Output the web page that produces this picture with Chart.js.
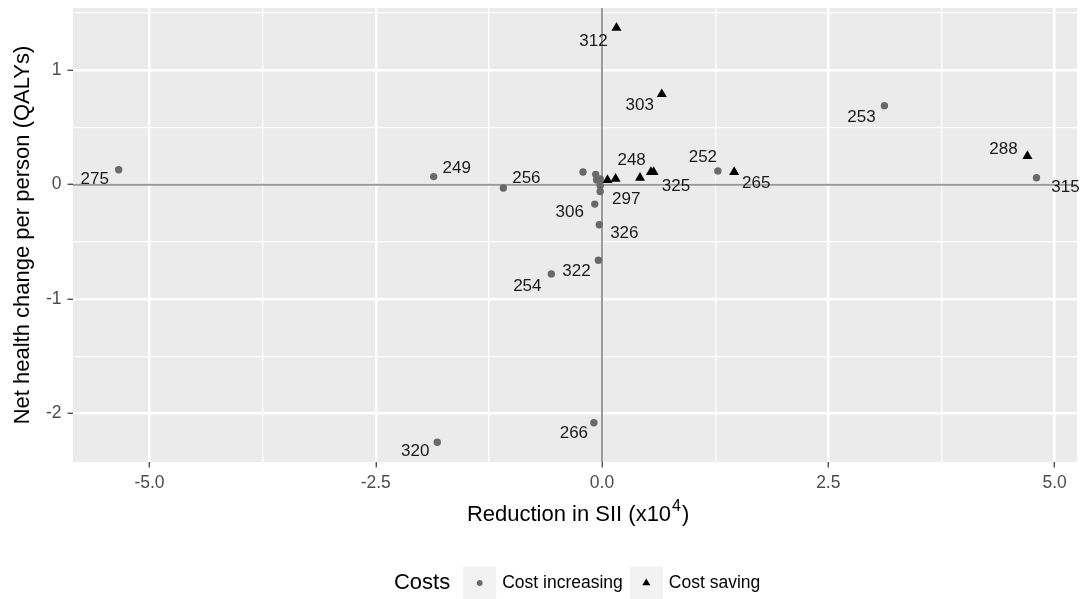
<!DOCTYPE html>
<html>
<head>
<meta charset="utf-8">
<script src="https://cdn.jsdelivr.net/npm/chart.js@4/dist/chart.umd.min.js"></script>
<style>
  html, body { margin: 0; padding: 0; background: #ffffff; }
  #wrap { width: 1083px; height: 599px; position: relative; }
</style>
</head>
<body>
<div id="wrap"><canvas id="chart" width="1083" height="599"></canvas></div>
<script>
// Axis tick values
const xTicks = [-5, -2.5, 0, 2.5, 5];
const yTicks = [-2, -1, 0, 1];

// Cost-increasing schemes: id, reduction in SII (x10^4), net QALY change
const increasingIds = ['275', '249', '256', '320', '266', '254', '322', '326', '306', '297', '', '', '', '', '', '252', '253', '315'];
const increasingX   = [-5.34, -1.86, -1.09, -1.82, -0.09, -0.56, -0.04, -0.03, -0.08, -0.02, -0.21, -0.07, -0.06, -0.02, -0.02, 1.28, 3.12, 4.80];
const increasingY   = [0.13, 0.07, -0.03, -2.25, -2.08, -0.78, -0.66, -0.35, -0.17, -0.06, 0.11, 0.09, 0.04, 0.05, -0.01, 0.12, 0.69, 0.06];

// Cost-saving schemes
const savingIds = ['312', '303', '288', '265', '325', '', '', '248', ''];
const savingX   = [0.16, 0.66, 4.70, 1.46, 0.54, 0.57, 0.42, 0.15, 0.06];
const savingY   = [1.37, 0.79, 0.25, 0.11, 0.11, 0.11, 0.06, 0.05, 0.04];

const seriesNames = ['Cost increasing', 'Cost saving'];
const legendTitle = 'Costs';
// x-axis title: base text, superscript exponent, closing text
const xTitleParts = ['Reduction in SII (x10', '4', ')'];
const yTitle = 'Net health change per person (QALYs)';

// Where each scheme label sits relative to its marker (pixels)
const labelNudge = {
  '275': [-24, 10], '249': [23, -8], '256': [23, -10], '320': [-22, 9],
  '266': [-20, 11], '254': [-24, 12], '322': [-22, 11], '326': [25, 9],
  '306': [-25, 8], '297': [26, 8], '252': [-15, -14], '253': [-23, 12],
  '315': [29, 10], '312': [-23, 14], '303': [-22, 11], '288': [-24, -7],
  '265': [22, 11], '325': [25, 14], '248': [16, -19]
};

const FONT = '"Liberation Sans", Arial, Helvetica, sans-serif';

function toPoints(xs, ys) {
  return xs.map((x, i) => ({ x: x, y: ys[i] }));
}

// Major ticks from the arrays plus minor ticks half way between them,
// keeping only those inside the axis range
function withMinor(values, lo, hi) {
  const step = values[1] - values[0];
  const out = [];
  for (let k = -1; k <= (values.length - 1) * 2 + 1; k++) {
    const v = values[0] + k * step / 2;
    if (v < lo || v > hi) continue;
    out.push({ value: v, minor: k % 2 !== 0 });
  }
  return out;
}

function noEdgePadding(scale) {
  scale.paddingTop = 0;
  scale.paddingBottom = 0;
  scale.paddingLeft = 0;
  scale.paddingRight = 0;
}

const panelBg = {
  id: 'panelBg',
  beforeDraw(chart) {
    const { ctx, chartArea: a } = chart;
    ctx.save();
    ctx.fillStyle = '#EBEBEB';
    ctx.fillRect(a.left, a.top, a.right - a.left, a.bottom - a.top);
    ctx.restore();
  }
};

// Reference lines through the origin
const zeroLines = {
  id: 'zeroLines',
  beforeDatasetsDraw(chart) {
    const { ctx, chartArea: a, scales } = chart;
    const x0 = scales.x.getPixelForValue(0);
    const y0 = scales.y.getPixelForValue(0);
    ctx.save();
    ctx.strokeStyle = '#999999';
    ctx.lineWidth = 2;
    ctx.beginPath();
    ctx.moveTo(a.left, y0); ctx.lineTo(a.right, y0);
    ctx.moveTo(x0, a.top); ctx.lineTo(x0, a.bottom);
    ctx.stroke();
    ctx.restore();
  }
};

// Scheme id next to each marker
const schemeLabels = {
  id: 'schemeLabels',
  afterDatasetsDraw(chart) {
    const ctx = chart.ctx;
    ctx.save();
    ctx.font = '17px ' + FONT;
    ctx.fillStyle = '#1a1a1a';
    ctx.textAlign = 'center';
    ctx.textBaseline = 'middle';
    chart.data.datasets.forEach((ds, di) => {
      const meta = chart.getDatasetMeta(di);
      meta.data.forEach((pt, i) => {
        const id = ds.ids[i];
        if (!id) return;
        const n = labelNudge[id] || [0, 0];
        ctx.fillText(id, pt.x + n[0], pt.y + n[1]);
      });
    });
    ctx.restore();
  }
};

// x-axis title with a raised exponent
const xAxisTitle = {
  id: 'xAxisTitle',
  afterDraw(chart) {
    const ctx = chart.ctx;
    const a = chart.chartArea;
    const cy = 515;
    const base = '22px ' + FONT, sup = '16px ' + FONT;
    ctx.save();
    ctx.textBaseline = 'middle';
    ctx.textAlign = 'left';
    ctx.fillStyle = '#000000';
    ctx.font = base;
    const w0 = ctx.measureText(xTitleParts[0]).width;
    const w2 = ctx.measureText(xTitleParts[2]).width;
    ctx.font = sup;
    const w1 = ctx.measureText(xTitleParts[1]).width;
    let x = (a.left + a.right) / 2 + 3 - (w0 + w1 + 2 + w2) / 2;
    ctx.font = base;
    ctx.fillText(xTitleParts[0], x, cy);
    x += w0 + 1;
    ctx.font = sup;
    ctx.fillText(xTitleParts[1], x, cy - 8);
    x += w1 + 1;
    ctx.font = base;
    ctx.fillText(xTitleParts[2], x, cy);
    ctx.restore();
  }
};

// Legend along the bottom: title, then a grey key box and label per series
const costLegend = {
  id: 'costLegend',
  afterDraw(chart) {
    const ctx = chart.ctx;
    const cy = 583;
    const boxW = 33, boxH = 33, titleGap = 13, textGap = 6, itemGap = 7;
    ctx.save();
    ctx.textBaseline = 'middle';
    ctx.textAlign = 'left';
    ctx.font = '22px ' + FONT;
    const titleW = ctx.measureText(legendTitle).width;
    ctx.font = '17.5px ' + FONT;
    const items = chart.data.datasets.map(ds => ({ ds: ds, w: ctx.measureText(ds.label).width }));
    let total = titleW + titleGap;
    items.forEach((it, i) => { total += boxW + textGap + it.w + (i ? itemGap : 0); });
    const a = chart.chartArea;
    let x = (a.left + a.right) / 2 + 2 - total / 2;

    ctx.fillStyle = '#000000';
    ctx.font = '22px ' + FONT;
    ctx.fillText(legendTitle, x, cy);
    x += titleW + titleGap;

    items.forEach((it, i) => {
      if (i) x += itemGap;
      ctx.fillStyle = '#F2F2F2';
      ctx.fillRect(x, cy - boxH / 2, boxW, boxH);
      ctx.fillStyle = it.ds.backgroundColor;
      Chart.helpers.drawPoint(ctx, {
        pointStyle: it.ds.pointStyle,
        radius: it.ds.pointStyle === 'triangle' ? 4.6 : 2.9,
        rotation: 0,
        borderWidth: 0
      }, x + boxW / 2, cy);
      x += boxW + textGap;
      ctx.fillStyle = '#000000';
      ctx.font = '17.5px ' + FONT;
      ctx.fillText(it.ds.label, x, cy);
      x += it.w;
    });
    ctx.restore();
  }
};

const tickFont = { family: FONT, size: 17.5 };
const titleFont = { family: FONT, size: 22 };

const X_MIN = -5.845, X_MAX = 5.25;
const Y_MIN = -2.423, Y_MAX = 1.543;

new Chart(document.getElementById('chart'), {
  type: 'scatter',
  data: {
    datasets: [
      {
        label: seriesNames[0],
        ids: increasingIds,
        data: toPoints(increasingX, increasingY),
        pointStyle: 'circle',
        pointRadius: 3.7,
        backgroundColor: '#696969',
        borderWidth: 0
      },
      {
        label: seriesNames[1],
        ids: savingIds,
        data: toPoints(savingX, savingY),
        pointStyle: 'triangle',
        pointRadius: 5.8,
        backgroundColor: '#000000',
        borderWidth: 0
      }
    ]
  },
  options: {
    responsive: false,
    animation: false,
    events: [],
    layout: { padding: { top: 8, right: 0, bottom: 0, left: 0 } },
    plugins: { legend: { display: false }, tooltip: { enabled: false } },
    scales: {
      x: {
        type: 'linear',
        min: X_MIN,
        max: X_MAX,
        afterBuildTicks(scale) { scale.ticks = withMinor(xTicks, X_MIN, X_MAX); },
        afterFit(scale) { scale.height = 137; noEdgePadding(scale); },
        border: { display: false },
        grid: {
          color: '#FFFFFF',
          lineWidth: c => (c.tick && c.tick.minor ? 1.3 : 2.5),
          tickColor: c => (c.tick && c.tick.minor ? 'rgba(0,0,0,0)' : '#333333'),
          tickWidth: 1.2,
          tickLength: 5.5,
          drawTicks: true
        },
        ticks: {
          autoSkip: false,
          maxRotation: 0,
          padding: 5,
          color: '#4D4D4D',
          font: tickFont,
          callback: function (v, i, ticks) { return ticks[i].minor ? '' : Number(v).toFixed(1); }
        },
        title: { display: false }
      },
      y: {
        type: 'linear',
        min: Y_MIN,
        max: Y_MAX,
        afterBuildTicks(scale) { scale.ticks = withMinor(yTicks, Y_MIN, Y_MAX); },
        afterFit(scale) { scale.width = 73; noEdgePadding(scale); },
        border: { display: false },
        grid: {
          color: '#FFFFFF',
          lineWidth: c => (c.tick && c.tick.minor ? 1.3 : 2.5),
          tickColor: c => (c.tick && c.tick.minor ? 'rgba(0,0,0,0)' : '#333333'),
          tickWidth: 1.2,
          tickLength: 5.5,
          drawTicks: true
        },
        ticks: {
          autoSkip: false,
          padding: 6,
          color: '#4D4D4D',
          font: tickFont,
          callback: function (v, i, ticks) { return ticks[i].minor ? '' : String(Math.round(v)); }
        },
        title: {
          display: true,
          text: yTitle,
          color: '#000000',
          font: titleFont,
          padding: { top: 10, bottom: 0 }
        }
      }
    }
  },
  plugins: [panelBg, zeroLines, schemeLabels, xAxisTitle, costLegend]
});
</script>
</body>
</html>
